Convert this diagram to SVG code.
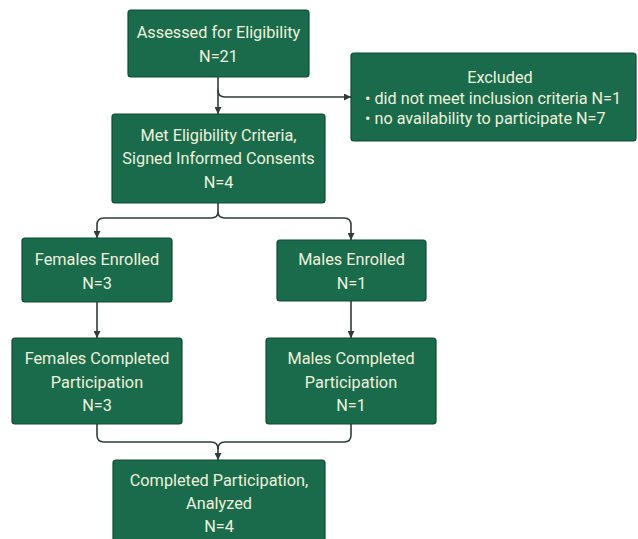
<svg xmlns="http://www.w3.org/2000/svg" width="638" height="539" viewBox="0 0 638 539">
<defs>
<style>
.box{fill:#1a6b4b;stroke:#0f4a33;stroke-width:1.2}
.t{font-family:Roboto,"Liberation Sans",sans-serif;font-size:16.3px;fill:#eef2dc;text-anchor:middle}
.t2{font-family:Roboto,"Liberation Sans",sans-serif;font-size:16.2px;fill:#eef2dc}
.c{fill:none;stroke:#2e3d3a;stroke-width:1.6}
</style>
<marker id="ah" viewBox="0 0 10 10" refX="10" refY="5" markerWidth="7" markerHeight="7" orient="auto" markerUnits="userSpaceOnUse">
<path d="M0,0 L10,5 L0,10 z" fill="#2e3d3a"/>
</marker>
</defs>
<rect width="638" height="539" fill="#ffffff"/>
<g id="connectors">
<path class="c" d="M218,77 V114" marker-end="url(#ah)"/>
<path class="c" d="M218,90 Q218,97 225,97 H351" marker-end="url(#ah)"/>
<path class="c" d="M218,203 V212 Q218,218 211,218 H104 Q97,218 97,225 V238" marker-end="url(#ah)"/>
<path class="c" d="M218,212 Q218,218 225,218 H344 Q351,218 351,225 V240" marker-end="url(#ah)"/>
<path class="c" d="M97,302 V338" marker-end="url(#ah)"/>
<path class="c" d="M351,301 V338" marker-end="url(#ah)"/>
<path class="c" d="M97,424 V435 Q97,442 104,442 H211 Q218,442 218,449 V460" marker-end="url(#ah)"/>
<path class="c" d="M351,424 V435 Q351,442 344,442 H225 Q218,442 218,449"/>
</g>
<g id="n1">
<rect class="box" x="128" y="10" width="181" height="67" rx="3"/>
<text class="t" x="218.5" y="38">Assessed for Eligibility</text>
<text class="t" x="218.5" y="62">N=21</text>
</g>
<g id="n_excluded">
<rect class="box" x="351" y="53" width="285" height="88" rx="3"/>
<text class="t" x="500" y="83">Excluded</text>
<text class="t2" x="365" y="104">• did not meet inclusion criteria N=1</text>
<text class="t2" x="365" y="124">• no availability to participate N=7</text>
</g>
<g id="n2">
<rect class="box" x="112" y="114" width="213" height="89" rx="3"/>
<text class="t" x="218.5" y="141">Met Eligibility Criteria,</text>
<text class="t" x="218.5" y="164">Signed Informed Consents</text>
<text class="t" x="218.5" y="188">N=4</text>
</g>
<g id="n_fe">
<rect class="box" x="22" y="238" width="150" height="64" rx="3"/>
<text class="t" x="97" y="265">Females Enrolled</text>
<text class="t" x="97" y="289">N=3</text>
</g>
<g id="n_me">
<rect class="box" x="277" y="240" width="149" height="61" rx="3"/>
<text class="t" x="351.5" y="265">Males Enrolled</text>
<text class="t" x="351.5" y="289">N=1</text>
</g>
<g id="n_fc">
<rect class="box" x="12" y="338" width="170" height="86" rx="3"/>
<text class="t" x="97" y="364">Females Completed</text>
<text class="t" x="97" y="388">Participation</text>
<text class="t" x="97" y="411">N=3</text>
</g>
<g id="n_mc">
<rect class="box" x="266" y="338" width="170" height="86" rx="3"/>
<text class="t" x="351" y="364">Males Completed</text>
<text class="t" x="351" y="388">Participation</text>
<text class="t" x="351" y="411">N=1</text>
</g>
<g id="n_final">
<rect class="box" x="113" y="460" width="212" height="90" rx="3"/>
<text class="t" x="219" y="486">Completed Participation,</text>
<text class="t" x="219" y="509">Analyzed</text>
<text class="t" x="219" y="532">N=4</text>
</g>
</svg>
